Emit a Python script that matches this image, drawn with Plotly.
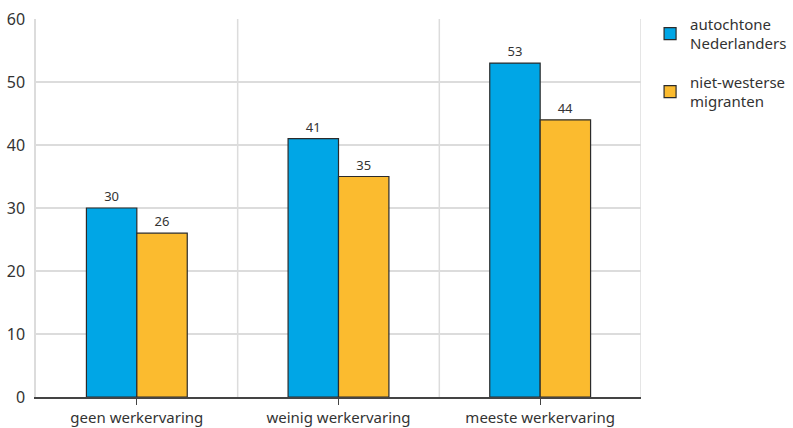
import plotly.graph_objects as go

categories = ["geen werkervaring", "weinig werkervaring", "meeste werkervaring"]
autochtoon = [30, 41, 53]
migranten = [26, 35, 44]
series_names = ["autochtone<br>Nederlanders", "niet-westerse<br>migranten"]
y_ticks = [0, 10, 20, 30, 40, 50, 60]

FONT = "Noto Sans"
TXT = "#333333"
GRID = "#dcdcdc"

fig = go.Figure()
fig.add_trace(go.Bar(
    x=categories, y=autochtoon, name=series_names[0], legendgroup="a",
    marker=dict(color="#00a6e6", line=dict(color="#2b2b2b", width=1.2)),
    text=autochtoon, textposition="outside", textfont=dict(size=13, color=TXT),
    cliponaxis=False,
))
fig.add_trace(go.Bar(
    x=categories, y=migranten, name=series_names[1], legendgroup="b",
    marker=dict(color="#fbbb2f", line=dict(color="#2b2b2b", width=1.2)),
    text=migranten, textposition="outside", textfont=dict(size=13, color=TXT),
    cliponaxis=False,
))

# vertical gridlines at category boundaries
for b in [0.5, 1.5, 2.5]:
    fig.add_shape(type="line", xref="x", yref="paper", x0=b, x1=b, y0=0, y1=1,
                  line=dict(color=GRID, width=1.5), layer="below")

fig.update_layout(
    width=793, height=428,
    margin=dict(l=36, r=152, t=19, b=31, autoexpand=False),
    paper_bgcolor="white", plot_bgcolor="white",
    barmode="group", bargap=0.5, bargroupgap=0,
    font=dict(family=FONT, color=TXT, size=15),
    showlegend=True,
    legend=dict(x=1.015, y=1.03, xanchor="left", yanchor="top",
                font=dict(size=15, color=TXT), tracegroupgap=16,
                itemwidth=30, traceorder="grouped"),
)
fig.update_xaxes(
    range=[-0.5, 2.5], showgrid=False, automargin=False,
    showline=True, linecolor="#444444", linewidth=1.5,
    ticks="outside", ticklen=6, tickcolor="#444444",
    tickfont=dict(size=15, color=TXT), mirror=False,
)
fig.update_yaxes(
    range=[0, 60], tickvals=y_ticks, showgrid=True, gridcolor=GRID, gridwidth=1.5,
    showline=True, linecolor=GRID, linewidth=1.5, zeroline=False, automargin=False,
    ticks="", tickfont=dict(size=16, color=TXT), ticklabelstandoff=6,
)
fig.write_html("out.html")
